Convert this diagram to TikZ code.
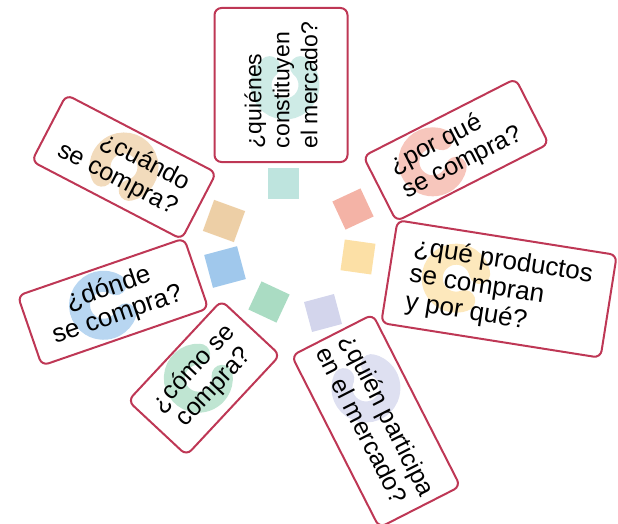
\documentclass[tikz,border=0pt]{standalone}
\usepackage{fontspec}
\setmainfont{Liberation Sans}
\usetikzlibrary{backgrounds}
\usetikzlibrary{calc}

\definecolor{cardline}{HTML}{BE3755}
\definecolor{cteal}{HTML}{BEE4DE}
\definecolor{csalmon}{HTML}{F4B3A6}
\definecolor{cyellow}{HTML}{FCE0A6}
\definecolor{clavender}{HTML}{D3D5EC}
\definecolor{cgreen}{HTML}{AADCC3}
\definecolor{cblue}{HTML}{A0C8EC}
\definecolor{ctan}{HTML}{EDCFA6}

\tikzset{
  card/.style={draw=cardline, line width=2pt, rounded corners=7pt, inner sep=0pt,
    font=\fontsize{25}{28}\selectfont},
  tile/.style={minimum size=31pt, inner sep=0pt},
  blob/.style={line width=21pt, line cap=round, opacity=.75},
}

% faded hook behind the question: card, turn, colour, x, y, opening
\newcommand{\hook}[6]{
  \begin{scope}[shift={(#1.center)}, rotate=#2, x=1pt, y=1pt]
    \draw[blob, #3] ($(#4,#5)+(#6+40:24)$) arc[start angle=#6+40, delta angle=280, radius=24];
  \end{scope}
}

\begin{document}
\begin{tikzpicture}[x=1pt, y=-1pt]
  \useasboundingbox (0,0) rectangle (618,524);

  % the seven questions
  \node[card, rotate=90, minimum width=154pt, minimum height=133pt, align=left,
    font=\fontsize{23}{28}\selectfont] (quienes) at (281,85)
    {¿quiénes\\constituyen\\el mercado?};
  \node[card, rotate=27, minimum width=171pt, minimum height=73pt, align=left] (porque) at (456,150)
    {¿por qué\\se compra?};
  \node[card, rotate=-9, minimum width=222pt, minimum height=104pt, align=left,
    font=\fontsize{26}{28}\selectfont] (productos) at (499,289)
    {¿qué productos\\se compran\\y por qué?};
  \node[card, rotate=-63, minimum width=193pt, minimum height=91pt, align=left] (quien) at (376,421)
    {¿quién participa\\en el mercado?};
  \node[card, rotate=47, minimum width=137pt, minimum height=80pt, align=center] (como) at (204,378)
    {¿cómo se\\compra?};
  \node[card, rotate=19, minimum width=176pt, minimum height=74pt, align=center,
    font=\fontsize{26}{28}\selectfont] (donde) at (113,302)
    {¿dónde\\se compra?};
  \node[card, rotate=-27.5, minimum width=169pt, minimum height=75pt, align=right] (cuando) at (124,167)
    {¿cuándo\\se compra?};

  % small squares round the middle
  \node[tile, fill=cteal] (tquienes) at (283,183) {};
  \node[tile, fill=csalmon, rotate=25] (tporque) at (353,209) {};
  \node[tile, fill=cyellow, rotate=-8] (tproductos) at (358,257) {};
  \node[tile, fill=clavender, rotate=15] (tquien) at (323,313) {};
  \node[tile, fill=cgreen, rotate=-25] (tcomo) at (269,302) {};
  \node[tile, fill=cblue, rotate=15, minimum size=34pt] (tdonde) at (225,267) {};
  \node[tile, fill=ctan, rotate=-20, minimum size=33pt] (tcuando) at (224,221) {};

  \begin{scope}[on background layer]
    \hook{quienes}{90}{cteal}{0}{-4}{0}
    \hook{porque}{27}{csalmon}{-26}{0}{0}
    \hook{productos}{-9}{cyellow}{-44}{4}{-20}
    \hook{quien}{-63}{clavender}{-34}{6}{180}
    \hook{como}{47}{cgreen}{-4}{4}{0}
    \hook{donde}{19}{cblue}{-10}{0}{0}
    \hook{cuando}{-27.5}{ctan}{0}{0}{-90}
  \end{scope}
\end{tikzpicture}
\end{document}
